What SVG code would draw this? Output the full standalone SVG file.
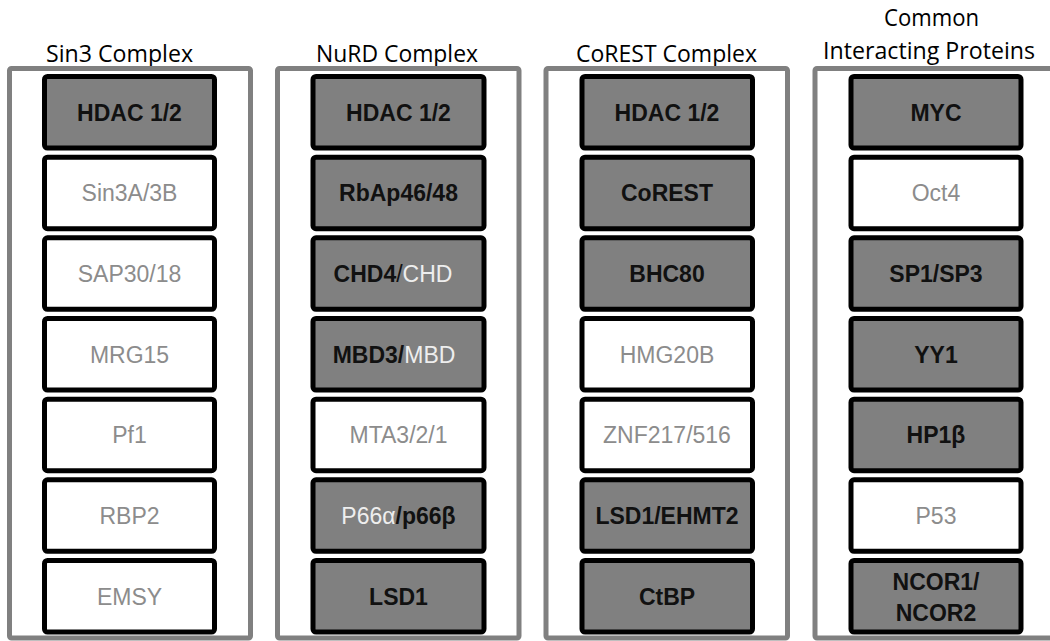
<svg xmlns="http://www.w3.org/2000/svg" width="1050" height="641" viewBox="0 0 1050 641">
<style>
.outer{fill:#ffffff;stroke:#808080;stroke-width:5}
.box{stroke:#000000;stroke-width:5}
.g{fill:#808080}
.w{fill:#ffffff}
.title{font-family:"Open Sans","Noto Sans",sans-serif;font-size:24px;fill:#000000}
.t{font-family:"Liberation Sans",Arial,sans-serif;font-size:23px;text-anchor:middle}
.b{font-weight:bold;fill:#111111}
.l{fill:#8c8c8c}
.lw{fill:#eeeeee;font-weight:normal}
</style>
<rect width="1050" height="641" fill="#ffffff"/>
<g id="titles">
<text class="title" x="46" y="62" textLength="147" lengthAdjust="spacingAndGlyphs">Sin3 Complex</text>
<text class="title" x="316" y="62" textLength="162" lengthAdjust="spacingAndGlyphs">NuRD Complex</text>
<text class="title" x="576" y="62" textLength="181" lengthAdjust="spacingAndGlyphs">CoREST Complex</text>
<text class="title" x="884" y="26" textLength="95" lengthAdjust="spacingAndGlyphs">Common</text>
<text class="title" x="823" y="59" textLength="212" lengthAdjust="spacingAndGlyphs">Interacting Proteins</text>
</g>
<g id="sin3">
<rect class="outer" x="9.5" y="68.5" width="241" height="569.5" rx="2"/>
<g id="sin3-hdac"><rect class="box g" x="44.5" y="76.5" width="170" height="71.5" rx="3"/><text class="t b" x="129.5" y="120.7">HDAC 1/2</text></g>
<g id="sin3-sin3a"><rect class="box w" x="44.5" y="157.2" width="170" height="71.5" rx="3"/><text class="t l" x="129.5" y="201.4">Sin3A/3B</text></g>
<g id="sin3-sap30"><rect class="box w" x="44.5" y="237.8" width="170" height="71.5" rx="3"/><text class="t l" x="129.5" y="282">SAP30/18</text></g>
<g id="sin3-mrg15"><rect class="box w" x="44.5" y="318.5" width="170" height="71.5" rx="3"/><text class="t l" x="129.5" y="362.7">MRG15</text></g>
<g id="sin3-pf1"><rect class="box w" x="44.5" y="399.2" width="170" height="71.5" rx="3"/><text class="t l" x="129.5" y="443.4">Pf1</text></g>
<g id="sin3-rbp2"><rect class="box w" x="44.5" y="479.8" width="170" height="71.5" rx="3"/><text class="t l" x="129.5" y="524">RBP2</text></g>
<g id="sin3-emsy"><rect class="box w" x="44.5" y="560.5" width="170" height="71.5" rx="3"/><text class="t l" x="129.5" y="604.7">EMSY</text></g>
</g>
<g id="nurd">
<rect class="outer" x="277.5" y="68.5" width="241.5" height="569.5" rx="2"/>
<g id="nurd-hdac"><rect class="box g" x="313" y="76.5" width="171" height="71.5" rx="3"/><text class="t b" x="398.5" y="120.7">HDAC 1/2</text></g>
<g id="nurd-rbap"><rect class="box g" x="313" y="157.2" width="171" height="71.5" rx="3"/><text class="t b" x="398.5" y="201.4">RbAp46/48</text></g>
<g id="nurd-chd"><rect class="box g" x="313" y="237.8" width="171" height="71.5" rx="3"/><text class="t b" x="393" y="282">CHD4<tspan style="font-weight:normal">/</tspan><tspan class="lw">CHD</tspan></text></g>
<g id="nurd-mbd"><rect class="box g" x="313" y="318.5" width="171" height="71.5" rx="3"/><text class="t b" x="394" y="362.7">MBD3/<tspan class="lw">MBD</tspan></text></g>
<g id="nurd-mta"><rect class="box w" x="313" y="399.2" width="171" height="71.5" rx="3"/><text class="t l" x="398.5" y="443.4">MTA3/2/1</text></g>
<g id="nurd-p66"><rect class="box g" x="313" y="479.8" width="171" height="71.5" rx="3"/><text class="t b" x="398.5" y="524"><tspan class="lw">P66α</tspan>/p66β</text></g>
<g id="nurd-lsd1"><rect class="box g" x="313" y="560.5" width="171" height="71.5" rx="3"/><text class="t b" x="398.5" y="604.7">LSD1</text></g>
</g>
<g id="corest">
<rect class="outer" x="546" y="68.5" width="241.5" height="569.5" rx="2"/>
<g id="corest-hdac"><rect class="box g" x="582" y="76.5" width="170.5" height="71.5" rx="3"/><text class="t b" x="667" y="120.7">HDAC 1/2</text></g>
<g id="corest-corest"><rect class="box g" x="582" y="157.2" width="170.5" height="71.5" rx="3"/><text class="t b" x="667" y="201.4">CoREST</text></g>
<g id="corest-bhc80"><rect class="box g" x="582" y="237.8" width="170.5" height="71.5" rx="3"/><text class="t b" x="667" y="282">BHC80</text></g>
<g id="corest-hmg"><rect class="box w" x="582" y="318.5" width="170.5" height="71.5" rx="3"/><text class="t l" x="667" y="362.7">HMG20B</text></g>
<g id="corest-znf"><rect class="box w" x="582" y="399.2" width="170.5" height="71.5" rx="3"/><text class="t l" x="667" y="443.4">ZNF217/516</text></g>
<g id="corest-lsd1"><rect class="box g" x="582" y="479.8" width="170.5" height="71.5" rx="3"/><text class="t b" x="667" y="524">LSD1/EHMT2</text></g>
<g id="corest-ctbp"><rect class="box g" x="582" y="560.5" width="170.5" height="71.5" rx="3"/><text class="t b" x="667" y="604.7">CtBP</text></g>
</g>
<g id="common">
<rect class="outer" x="815" y="68.5" width="241" height="569.5" rx="2"/>
<g id="common-myc"><rect class="box g" x="851" y="76.5" width="170" height="71.5" rx="3"/><text class="t b" x="936" y="120.7">MYC</text></g>
<g id="common-oct4"><rect class="box w" x="851" y="157.2" width="170" height="71.5" rx="3"/><text class="t l" x="936" y="201.4">Oct4</text></g>
<g id="common-sp"><rect class="box g" x="851" y="237.8" width="170" height="71.5" rx="3"/><text class="t b" x="936" y="282">SP1/SP3</text></g>
<g id="common-yy1"><rect class="box g" x="851" y="318.5" width="170" height="71.5" rx="3"/><text class="t b" x="936" y="362.7">YY1</text></g>
<g id="common-hp1"><rect class="box g" x="851" y="399.2" width="170" height="71.5" rx="3"/><text class="t b" x="936" y="443.4">HP1β</text></g>
<g id="common-p53"><rect class="box w" x="851" y="479.8" width="170" height="71.5" rx="3"/><text class="t l" x="936" y="524">P53</text></g>
<g id="common-ncor"><rect class="box g" x="851" y="560.5" width="170" height="71.5" rx="3"/><text class="t b" x="936" y="590">NCOR1/</text><text class="t b" x="936" y="621">NCOR2</text></g>
</g>
<g id="connectors"/>
</svg>
